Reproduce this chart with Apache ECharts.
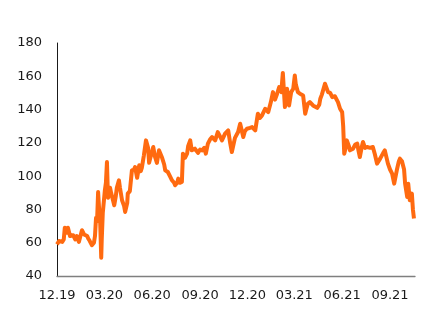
<!DOCTYPE html>
<html><head><meta charset="utf-8">
<script src="https://cdn.jsdelivr.net/npm/echarts@6/dist/echarts.min.js"></script>
<style>html,body{margin:0;padding:0;background:#fff}#c{width:443px;height:333px}</style>
</head><body><div id="c"></div>
<script>
const dates = [
'2019-12-01','2019-12-05','2019-12-11','2019-12-14','2019-12-16','2019-12-20','2019-12-22','2019-12-26',
'2020-01-01','2020-01-05','2020-01-08','2020-01-12','2020-01-18','2020-01-22','2020-01-24','2020-01-28','2020-01-30',
'2020-02-02','2020-02-06','2020-02-10','2020-02-12','2020-02-14','2020-02-16','2020-02-18','2020-02-20','2020-02-22','2020-02-24','2020-02-25','2020-02-27','2020-02-29',
'2020-03-02','2020-03-04','2020-03-06','2020-03-08','2020-03-10','2020-03-12','2020-03-14','2020-03-16','2020-03-18','2020-03-20','2020-03-23','2020-03-25','2020-03-29','2020-03-31',
'2020-04-04','2020-04-08','2020-04-10','2020-04-14','2020-04-15','2020-04-19','2020-04-23','2020-04-27','2020-04-29',
'2020-05-03','2020-05-07','2020-05-10','2020-05-12','2020-05-16','2020-05-20','2020-05-22','2020-05-24','2020-05-26','2020-05-28','2020-05-30',
'2020-06-03','2020-06-06','2020-06-10','2020-06-14','2020-06-20','2020-06-24','2020-06-26',
'2020-07-01','2020-07-05','2020-07-09','2020-07-13','2020-07-15','2020-07-19','2020-07-21','2020-07-24','2020-07-28','2020-07-30',
'2020-08-03','2020-08-07','2020-08-09','2020-08-13','2020-08-16','2020-08-22','2020-08-28',
'2020-09-01','2020-09-05','2020-09-09','2020-09-12','2020-09-16','2020-09-20','2020-09-24','2020-09-30',
'2020-10-05','2020-10-09','2020-10-13','2020-10-19','2020-10-25','2020-10-29',
'2020-11-01','2020-11-07','2020-11-13','2020-11-17','2020-11-23','2020-11-26','2020-11-30',
'2020-12-06','2020-12-10','2020-12-16','2020-12-21','2020-12-25','2020-12-29',
'2021-01-04','2021-01-10','2021-01-15','2021-01-19','2021-01-23','2021-01-27','2021-01-31',
'2021-02-04','2021-02-07','2021-02-11','2021-02-15','2021-02-19','2021-02-23','2021-02-27',
'2021-03-02','2021-03-04','2021-03-08','2021-03-12','2021-03-18','2021-03-22','2021-03-24','2021-03-27','2021-03-31',
'2021-04-02','2021-04-06','2021-04-08','2021-04-14','2021-04-18','2021-04-20','2021-04-23','2021-04-29',
'2021-05-05','2021-05-09','2021-05-13','2021-05-18','2021-05-24','2021-05-28',
'2021-06-01','2021-06-03','2021-06-05','2021-06-07','2021-06-10','2021-06-14','2021-06-16','2021-06-22','2021-06-26','2021-06-30',
'2021-07-02','2021-07-05','2021-07-09','2021-07-11','2021-07-15','2021-07-19','2021-07-25','2021-07-30',
'2021-08-03','2021-08-07','2021-08-13','2021-08-19','2021-08-22','2021-08-28',
'2021-09-01','2021-09-05','2021-09-09','2021-09-14','2021-09-18','2021-09-20','2021-09-24','2021-09-26','2021-09-28','2021-09-30',
'2021-10-04','2021-10-06','2021-10-09','2021-10-13','2021-10-15','2021-10-17'
];
const values = [
59,61,60.5,62,69,66,69,64,
64.5,62,64,60.5,67.5,65,66,64,62.5,
61,58.5,60,64,75,73,90.5,80,72,51,62,78,77,
91.5,96,108.5,87,89,93,90,87.5,85,82.5,88,93,97.5,93,
85.5,82,78.5,84,89.5,91,103.5,104,105.5,
99,106.5,103,105,112.5,121.5,120.5,117,108,108.5,113,
117.5,112,108,115.5,111,107,103.5,
102.5,100,97.5,96,94.5,96,98.5,96,96.5,113.5,
111,113.5,118,121.5,115.5,116.5,114,
116,115.5,117,113.5,119.5,122,123.5,121.5,
126.5,124,121.5,125.5,127.5,119.5,
114.5,123,126.5,131.5,123.5,127,128.5,
129,129.5,127.5,137.5,135,136.5,
140.5,138.5,144.5,150.5,146,149.5,153.5,
150.5,162,141.5,152.5,142.5,150.5,152.5,
160.5,155,150.5,149.5,148.5,137.5,140,143.5,144.5,
145.5,142.5,141.5,141,143,146.5,149,155.5,
150.5,150,147.5,148,144.5,140.5,
138.5,130,113.5,116,121.5,118,115.5,116.5,119,119.5,
116,111.5,118,120.5,117,117.5,117,117.5,
113,107.5,110.5,114,115.5,107.5,
104,101.5,95.5,103.5,109,110.5,109,110,104,95.5,
87.5,95.5,85.5,89.5,80,74.5
];
const tickDates = ['2019-12-01','2020-03-01','2020-06-01','2020-09-01','2020-12-01','2021-03-01','2021-06-01','2021-09-01'];
const tickLabels = ['12.19','03.20','06.20','09.20','12.20','03.21','06.21','09.21'];
const xStart = '2019-12-01', xEnd = '2021-10-19';
const yMin = 40, yMax = 180, yStep = 20;

function ts(s){ const p = s.split('-').map(Number); return Date.UTC(p[0], p[1]-1, p[2]); }
const tickTimes = tickDates.map(ts);
const data = dates.map((d,i)=>[ts(d), values[i]]);

const chart = echarts.init(document.getElementById('c'), null, {renderer:'canvas'});
chart.setOption({
  animation:false,
  grid:{left:57, right:28, top:43, bottom:57, containLabel:false},
  xAxis:{
    type:'value', min:ts(xStart), max:ts(xEnd), scale:true,
    axisLine:{show:true, lineStyle:{color:'#7f7f7f', width:1.3}},
    axisTick:{show:false},
    splitLine:{show:false},
    axisLabel:{
      customValues: tickTimes,
      hideOverlap:false,
      margin:13, color:'#1a1a1a', fontFamily:'DejaVu Sans', fontSize:13,
      formatter: function(v){
        let best=0, bd=Infinity;
        tickTimes.forEach((t,i)=>{const dd=Math.abs(t-v); if(dd<bd){bd=dd;best=i;}});
        return tickLabels[best];
      }
    }
  },
  yAxis:{
    type:'value', min:yMin, max:yMax, interval:yStep,
    axisLine:{show:true, lineStyle:{color:'#1a1a1a', width:1}},
    axisTick:{show:false},
    splitLine:{show:false},
    axisLabel:{margin:15, color:'#1a1a1a', fontFamily:'DejaVu Sans', fontSize:13}
  },
  series:[{
    type:'line', data:data, showSymbol:false, symbol:'none',
    lineStyle:{color:'#FF6A10', width:4, join:'round'},
    itemStyle:{color:'#FF6A10'}
  }]
});
</script>
</body></html>
